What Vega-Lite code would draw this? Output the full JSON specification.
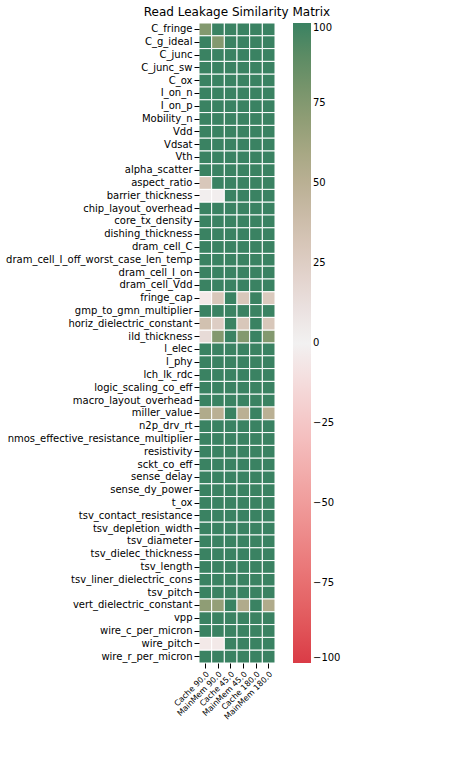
{
"$schema":"https://vega.github.io/schema/vega-lite/v6.json",
"width":76,"height":640,
"padding":{"left":5,"top":5,"right":5,"bottom":5},
"title":{"text":"Read Leakage Similarity Matrix","fontSize":12,"fontWeight":"normal","font":"DejaVu Sans","anchor":"middle","offset":4},
"data":{"values":[
{"p":"C_fringe","c1":75,"c2":100,"c3":100,"c4":100,"c5":100,"c6":100},
{"p":"C_g_ideal","c1":100,"c2":75,"c3":100,"c4":100,"c5":100,"c6":100},
{"p":"C_junc","c1":100,"c2":100,"c3":100,"c4":100,"c5":100,"c6":100},
{"p":"C_junc_sw","c1":100,"c2":100,"c3":100,"c4":100,"c5":100,"c6":100},
{"p":"C_ox","c1":100,"c2":100,"c3":100,"c4":100,"c5":100,"c6":100},
{"p":"I_on_n","c1":100,"c2":100,"c3":100,"c4":100,"c5":100,"c6":100},
{"p":"I_on_p","c1":100,"c2":100,"c3":100,"c4":100,"c5":100,"c6":100},
{"p":"Mobility_n","c1":100,"c2":100,"c3":100,"c4":100,"c5":100,"c6":100},
{"p":"Vdd","c1":100,"c2":100,"c3":100,"c4":100,"c5":100,"c6":100},
{"p":"Vdsat","c1":100,"c2":100,"c3":100,"c4":100,"c5":100,"c6":100},
{"p":"Vth","c1":100,"c2":100,"c3":100,"c4":100,"c5":100,"c6":100},
{"p":"alpha_scatter","c1":100,"c2":100,"c3":100,"c4":100,"c5":100,"c6":100},
{"p":"aspect_ratio","c1":30,"c2":100,"c3":100,"c4":100,"c5":100,"c6":100},
{"p":"barrier_thickness","c1":-2,"c2":-2,"c3":100,"c4":100,"c5":100,"c6":100},
{"p":"chip_layout_overhead","c1":100,"c2":100,"c3":100,"c4":100,"c5":100,"c6":100},
{"p":"core_tx_density","c1":100,"c2":100,"c3":100,"c4":100,"c5":100,"c6":100},
{"p":"dishing_thickness","c1":100,"c2":100,"c3":100,"c4":100,"c5":100,"c6":100},
{"p":"dram_cell_C","c1":100,"c2":100,"c3":100,"c4":100,"c5":100,"c6":100},
{"p":"dram_cell_I_off_worst_case_len_temp","c1":100,"c2":100,"c3":100,"c4":100,"c5":100,"c6":100},
{"p":"dram_cell_I_on","c1":100,"c2":100,"c3":100,"c4":100,"c5":100,"c6":100},
{"p":"dram_cell_Vdd","c1":100,"c2":100,"c3":100,"c4":100,"c5":100,"c6":100},
{"p":"fringe_cap","c1":-5,"c2":30,"c3":100,"c4":30,"c5":100,"c6":28},
{"p":"gmp_to_gmn_multiplier","c1":100,"c2":100,"c3":100,"c4":100,"c5":100,"c6":100},
{"p":"horiz_dielectric_constant","c1":35,"c2":25,"c3":100,"c4":30,"c5":100,"c6":30},
{"p":"ild_thickness","c1":15,"c2":75,"c3":100,"c4":75,"c5":100,"c6":75},
{"p":"l_elec","c1":100,"c2":100,"c3":100,"c4":100,"c5":100,"c6":100},
{"p":"l_phy","c1":100,"c2":100,"c3":100,"c4":100,"c5":100,"c6":100},
{"p":"lch_lk_rdc","c1":100,"c2":100,"c3":100,"c4":100,"c5":100,"c6":100},
{"p":"logic_scaling_co_eff","c1":100,"c2":100,"c3":100,"c4":100,"c5":100,"c6":100},
{"p":"macro_layout_overhead","c1":100,"c2":100,"c3":100,"c4":100,"c5":100,"c6":100},
{"p":"miller_value","c1":55,"c2":50,"c3":100,"c4":50,"c5":100,"c6":50},
{"p":"n2p_drv_rt","c1":100,"c2":100,"c3":100,"c4":100,"c5":100,"c6":100},
{"p":"nmos_effective_resistance_multiplier","c1":100,"c2":100,"c3":100,"c4":100,"c5":100,"c6":100},
{"p":"resistivity","c1":100,"c2":100,"c3":100,"c4":100,"c5":100,"c6":100},
{"p":"sckt_co_eff","c1":100,"c2":100,"c3":100,"c4":100,"c5":100,"c6":100},
{"p":"sense_delay","c1":100,"c2":100,"c3":100,"c4":100,"c5":100,"c6":100},
{"p":"sense_dy_power","c1":100,"c2":100,"c3":100,"c4":100,"c5":100,"c6":100},
{"p":"t_ox","c1":100,"c2":100,"c3":100,"c4":100,"c5":100,"c6":100},
{"p":"tsv_contact_resistance","c1":100,"c2":100,"c3":100,"c4":100,"c5":100,"c6":100},
{"p":"tsv_depletion_width","c1":100,"c2":100,"c3":100,"c4":100,"c5":100,"c6":100},
{"p":"tsv_diameter","c1":100,"c2":100,"c3":100,"c4":100,"c5":100,"c6":100},
{"p":"tsv_dielec_thickness","c1":100,"c2":100,"c3":100,"c4":100,"c5":100,"c6":100},
{"p":"tsv_length","c1":100,"c2":100,"c3":100,"c4":100,"c5":100,"c6":100},
{"p":"tsv_liner_dielectric_cons","c1":100,"c2":100,"c3":100,"c4":100,"c5":100,"c6":100},
{"p":"tsv_pitch","c1":100,"c2":100,"c3":100,"c4":100,"c5":100,"c6":100},
{"p":"vert_dielectric_constant","c1":70,"c2":68,"c3":100,"c4":55,"c5":100,"c6":55},
{"p":"vpp","c1":100,"c2":100,"c3":100,"c4":100,"c5":100,"c6":100},
{"p":"wire_c_per_micron","c1":100,"c2":100,"c3":100,"c4":100,"c5":100,"c6":100},
{"p":"wire_pitch","c1":-5,"c2":-5,"c3":100,"c4":100,"c5":100,"c6":100},
{"p":"wire_r_per_micron","c1":100,"c2":100,"c3":100,"c4":100,"c5":100,"c6":100}
]},
"transform":[{"fold":["c1","c2","c3","c4","c5","c6"],"as":["c","v"]}],
"mark":{"type":"rect","stroke":"white","strokeWidth":1},
"encoding":{
"x":{"field":"c","type":"nominal","sort":["c1","c2","c3","c4","c5","c6"],"title":null,
 "axis":{"labelAngle":-45,"labelAlign":"right","labelBaseline":"top","labelFontSize":8,"labelFont":"DejaVu Sans","labelColor":"black","domain":false,"tickColor":"black",
 "labelExpr":"{'c1':'Cache 90.0','c2':'MainMem 90.0','c3':'Cache 45.0','c4':'MainMem 45.0','c5':'Cache 180.0','c6':'MainMem 180.0'}[datum.value]"}},
"y":{"field":"p","type":"nominal","sort":null,"title":null,
 "axis":{"labelFontSize":10,"labelFont":"DejaVu Sans","labelColor":"black","domain":false,"tickColor":"black","labelLimit":400}},
"color":{"field":"v","type":"quantitative",
 "scale":{"domain":[-100,0,100],"range":["#da3b46","#f2f1f1","#3a8262"]},
 "legend":{"title":null,"orient":"right","gradientLength":640,"gradientThickness":18,"direction":"vertical","values":[-100,-75,-50,-25,0,25,50,75,100],"labelFontSize":10,"labelFont":"DejaVu Sans","labelColor":"black","offset":18,"gradientStrokeWidth":0}}
},
"config":{"view":{"stroke":null}}
}
